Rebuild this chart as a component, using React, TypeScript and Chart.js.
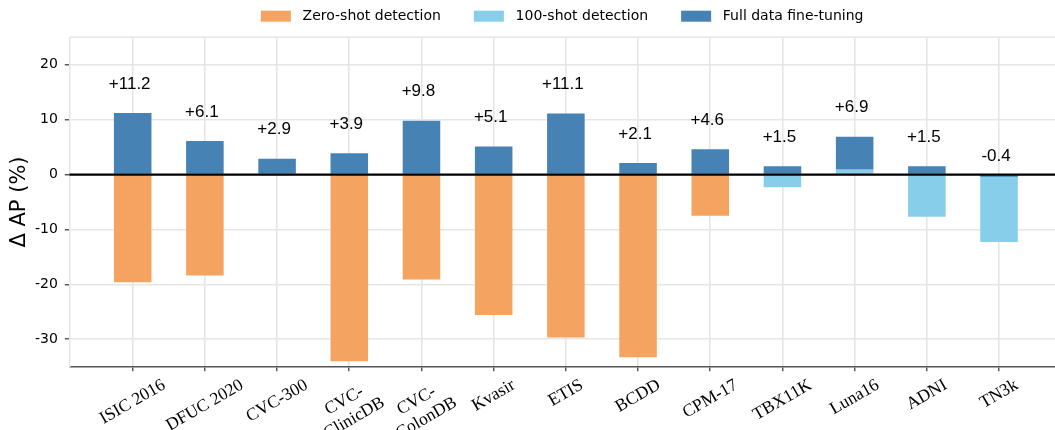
import React, { useEffect, useRef } from 'react';
import { Chart, registerables } from 'chart.js';

Chart.register(...registerables);

// ---------- data ----------
const categories: (string | string[])[] = [
  'ISIC 2016', 'DFUC 2020', 'CVC-300', ['CVC-', 'ClinicDB'], ['CVC-', 'ColonDB'],
  'Kvasir', 'ETIS', 'BCDD', 'CPM-17', 'TBX11K', 'Luna16', 'ADNI', 'TN3k',
];
const zeroShot: (number | null)[] = [-19.6, -18.4, null, -34.0, -19.1, -25.6, -29.7, -33.3, -7.5, null, null, null, null];
const hundredShot: (number | null)[] = [null, null, null, null, null, null, null, null, null, -2.3, 0.9, -7.7, -12.3];
const fullData: number[] = [11.2, 6.1, 2.9, 3.9, 9.8, 5.1, 11.1, 2.1, 4.6, 1.5, 6.9, 1.5, -0.4];
const yTicks: number[] = [-30, -20, -10, 0, 10, 20];
const seriesNames: string[] = ['Zero-shot detection', '100-shot detection', 'Full data fine-tuning'];
const seriesColors: string[] = ['#F4A460', '#87CEEB', '#4682B4'];
const yTitle = 'Δ AP (%)';

const Y_MIN = -35;
const Y_MAX = 25;
const X_MIN = -0.878;
const X_MAX = 12.775;

const GRID = '#e6e6e6';

function fullBase(i: number): number {
  const fs = zeroShot[i] ?? hundredShot[i] ?? 0;
  return fullData[i] > 0 && fs > 0 ? fs : 0;
}

const overlayPlugin = {
  id: 'overlay',
  afterDatasetsDraw(chart: any) {
    const { ctx, chartArea, scales } = chart;
    const y0 = scales.y.getPixelForValue(0);
    ctx.save();
    // zero line
    ctx.strokeStyle = '#000';
    ctx.lineWidth = 2.2;
    ctx.beginPath();
    ctx.moveTo(chartArea.left, y0);
    ctx.lineTo(chartArea.right, y0);
    ctx.stroke();
    // value labels above the full-data bars
    const meta = chart.getDatasetMeta(2);
    ctx.font = '17px "Liberation Sans", Arial, sans-serif';
    ctx.fillStyle = '#000';
    ctx.textAlign = 'center';
    ctx.textBaseline = 'middle';
    meta.data.forEach((bar: any, i: number) => {
      const v = fullData[i];
      const top = Math.min(bar.y, bar.base);
      const off = v < 0 ? 19 : 29;
      const txt = (v > 0 ? '+' : '') + v.toFixed(1);
      ctx.fillText(txt, bar.x - 3, top - off);
    });
    ctx.restore();
  },
  afterDraw(chart: any) {
    const { ctx, chartArea, scales } = chart;
    ctx.save();
    // top spine
    ctx.strokeStyle = GRID;
    ctx.lineWidth = 1.5;
    ctx.beginPath();
    ctx.moveTo(chartArea.left, chartArea.top);
    ctx.lineTo(chartArea.right, chartArea.top);
    ctx.stroke();

    // rotated category labels
    const fs = 17.5;
    const lineH = fs * 1.15;
    const a = (30 * Math.PI) / 180;
    ctx.font = `${fs}px "Liberation Serif", "Times New Roman", serif`;
    ctx.fillStyle = '#000';
    ctx.textAlign = 'center';
    ctx.textBaseline = 'middle';
    const top = chartArea.bottom + 8.5;
    categories.forEach((cat, i) => {
      const lines = Array.isArray(cat) ? cat : [cat];
      const W = Math.max(...lines.map((l) => ctx.measureText(l).width));
      const H = lines.length * lineH;
      const bboxH = W * Math.sin(a) + H * Math.cos(a);
      const cx = scales.x.getPixelForValue(i);
      const cy = top + bboxH / 2;
      ctx.save();
      ctx.translate(cx, cy);
      ctx.rotate(-a);
      lines.forEach((l, j) => ctx.fillText(l, 0, -H / 2 + lineH * (j + 0.5)));
      ctx.restore();
    });

    // legend
    ctx.font = '14px "DejaVu Sans", sans-serif';
    ctx.textAlign = 'left';
    const boxW = 30, boxH = 11, textGap = 11.7, itemGap = 33;
    const widths = seriesNames.map((n) => boxW + textGap + ctx.measureText(n).width);
    const total = widths.reduce((s, w) => s + w, 0) + itemGap * (seriesNames.length - 1);
    let x = (chartArea.left + chartArea.right) / 2 - total / 2;
    const ly = 16.2;
    seriesNames.forEach((n, k) => {
      ctx.fillStyle = seriesColors[k];
      ctx.fillRect(x, ly - boxH / 2, boxW, boxH);
      ctx.fillStyle = '#000';
      ctx.fillText(n, x + boxW + textGap, ly + 0.5);
      x += widths[k] + itemGap;
    });
    ctx.restore();
  },
};

export default function App() {
  const ref = useRef<HTMLCanvasElement | null>(null);

  useEffect(() => {
    if (!ref.current) return;
    const idx = categories.map((_, i) => i);
    const chart = new Chart(ref.current, {
      type: 'bar',
      data: {
        datasets: [
          {
            label: seriesNames[0],
            data: idx.map((i) => ({ x: i, y: zeroShot[i] })) as any,
            backgroundColor: seriesColors[0],
            order: 1,
          },
          {
            label: seriesNames[1],
            data: idx.map((i) => ({ x: i, y: hundredShot[i] })) as any,
            backgroundColor: seriesColors[1],
            order: 1,
          },
          {
            label: seriesNames[2],
            data: idx.map((i) => ({ x: i, y: [fullBase(i), fullData[i]] })) as any,
            backgroundColor: seriesColors[2],
            order: 0,
          },
        ],
      },
      options: {
        animation: false,
        responsive: false,
        devicePixelRatio: 1,
        layout: { padding: { top: 37.3, left: 0, right: 0, bottom: 0 } },
        datasets: {
          bar: {
            grouped: false,
            barPercentage: 0.52,
            categoryPercentage: 1,
            borderWidth: 0,
          },
        },
        plugins: {
          legend: { display: false },
          tooltip: { enabled: false },
        },
        scales: {
          x: {
            type: 'linear',
            min: X_MIN,
            max: X_MAX,
            offset: false,
            afterBuildTicks: (scale: any) => {
              scale.ticks = idx.map((i) => ({ value: i }));
            },
            afterFit: (scale: any) => {
              scale.height = 63.3;
            },
            ticks: { display: false, autoSkip: false },
            grid: {
              offset: false,
              color: GRID,
              lineWidth: 1.6,
              drawTicks: true,
              tickLength: 4.5,
              tickColor: '#333',
              tickWidth: 1.2,
            },
            border: { color: '#555', width: 1.5 },
          },
          y: {
            min: Y_MIN,
            max: Y_MAX,
            afterBuildTicks: (scale: any) => {
              scale.ticks = yTicks.map((v) => ({ value: v }));
            },
            afterFit: (scale: any) => {
              scale.width = 69.3;
            },
            ticks: {
              padding: 7,
              color: '#000',
              font: { family: '"DejaVu Sans", sans-serif', size: 14 },
              callback: (v: any) => String(v),
            },
            grid: {
              color: GRID,
              lineWidth: 1.6,
              drawTicks: true,
              tickLength: 4.5,
              tickColor: '#333',
              tickWidth: 1.2,
            },
            border: { color: GRID, width: 1.5 },
            title: {
              display: true,
              text: yTitle,
              color: '#000',
              font: { family: '"DejaVu Sans", sans-serif', size: 21 },
              padding: { top: 7, bottom: 0 },
            },
          },
        },
      },
      plugins: [overlayPlugin],
    });
    return () => chart.destroy();
  }, []);

  return (
    <div style={{ position: 'absolute', left: 0, top: 0, width: 1055, height: 430 }}>
      <canvas ref={ref} width={1055} height={430} />
    </div>
  );
}
